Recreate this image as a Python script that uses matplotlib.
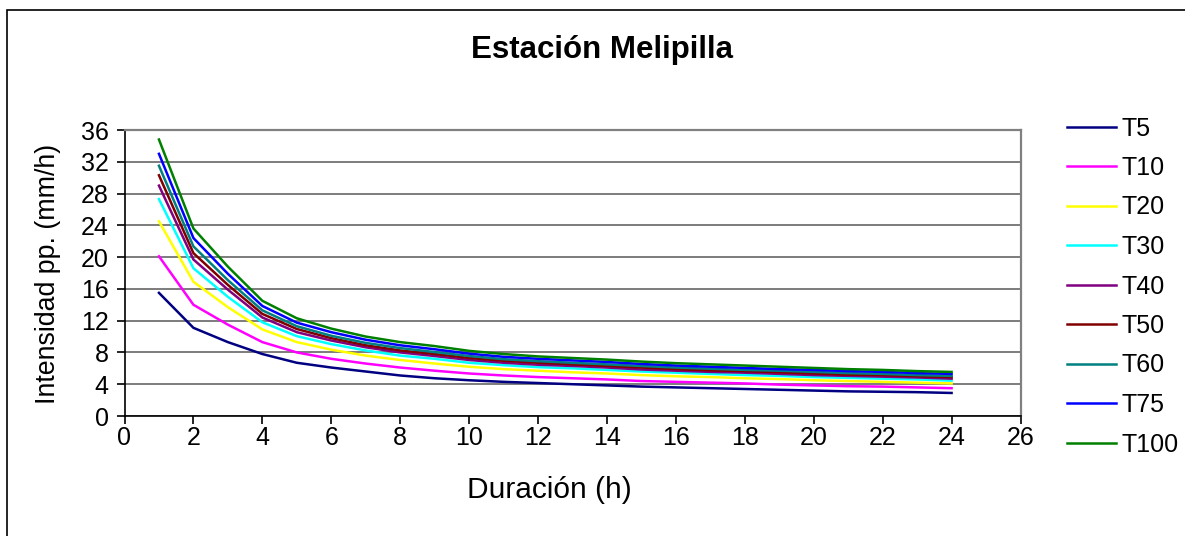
import matplotlib
matplotlib.use('Agg')
import matplotlib.pyplot as plt
from matplotlib.patches import Rectangle

plt.rcParams['font.family'] = ['Liberation Sans', 'DejaVu Sans']

# Duracion (h)
hours = list(range(1, 25))

# intensity curves (mm/h)
t5 = [15.5, 11.1, 9.3, 7.8, 6.7, 6.1, 5.6, 5.1, 4.75, 4.5, 4.3, 4.15,
      4.0, 3.85, 3.7, 3.6, 3.5, 3.4, 3.3, 3.2, 3.1, 3.05, 3.0, 2.9]
t10 = [20.1, 14.0, 11.5, 9.3, 8.0, 7.2, 6.6, 6.1, 5.7, 5.35, 5.1, 4.9,
       4.75, 4.6, 4.4, 4.3, 4.2, 4.1, 3.95, 3.85, 3.75, 3.7, 3.6, 3.5]
t20 = [24.5, 16.9, 13.7, 10.9, 9.3, 8.35, 7.6, 7.05, 6.6, 6.2, 5.9, 5.7,
       5.5, 5.35, 5.15, 5.0, 4.9, 4.75, 4.65, 4.5, 4.4, 4.3, 4.2, 4.1]
t30 = [27.3, 18.6, 15.0, 11.8, 10.05, 9.05, 8.25, 7.6, 7.2, 6.7, 6.4, 6.15,
       6.0, 5.8, 5.6, 5.45, 5.3, 5.15, 5.05, 4.9, 4.8, 4.7, 4.6, 4.45]
t40 = [29.0, 19.7, 15.9, 12.4, 10.55, 9.5, 8.65, 8.0, 7.55, 7.05, 6.7, 6.45,
       6.3, 6.1, 5.85, 5.7, 5.55, 5.45, 5.3, 5.15, 5.05, 4.95, 4.85, 4.7]
t50 = [30.3, 20.5, 16.5, 12.85, 10.95, 9.8, 8.9, 8.25, 7.8, 7.3, 6.95, 6.7,
       6.5, 6.3, 6.1, 5.9, 5.75, 5.65, 5.5, 5.35, 5.2, 5.15, 5.0, 4.9]
t60 = [31.5, 21.35, 17.1, 13.3, 11.3, 10.1, 9.2, 8.55, 8.05, 7.55, 7.15, 6.9,
       6.7, 6.5, 6.3, 6.1, 5.95, 5.8, 5.7, 5.55, 5.4, 5.3, 5.15, 5.05]
t75 = [33.0, 22.4, 17.9, 13.85, 11.75, 10.55, 9.6, 8.9, 8.4, 7.85, 7.45, 7.2,
       7.0, 6.8, 6.55, 6.35, 6.2, 6.05, 5.9, 5.8, 5.65, 5.55, 5.4, 5.3]
t100 = [34.8, 23.6, 18.8, 14.5, 12.3, 11.0, 10.0, 9.3, 8.8, 8.2, 7.8, 7.5,
        7.3, 7.1, 6.85, 6.65, 6.5, 6.35, 6.2, 6.05, 5.9, 5.8, 5.65, 5.55]

labels = ['T5', 'T10', 'T20', 'T30', 'T40', 'T50', 'T60', 'T75', 'T100']
colors = ['#000080', '#FF00FF', '#FFFF00', '#00FFFF', '#800080',
          '#800000', '#008080', '#0000FF', '#008000']
series = [t5, t10, t20, t30, t40, t50, t60, t75, t100]

fig = plt.figure(figsize=(11.85, 5.36), dpi=100)
ax = fig.add_axes([124.5 / 1185, 1 - 416 / 536, 896 / 1185, 286 / 536])

for vals, lab, col in zip(series, labels, colors):
    ax.plot(hours, vals, color=col, lw=1.8, label=lab)

ax.set_xlim(0, 26)
ax.set_ylim(0, 36)
ax.set_xticks(range(0, 27, 2))
ax.set_yticks(range(0, 37, 4))
ax.grid(axis='y', color='#666666', lw=1.2)
ax.set_axisbelow(True)

for s in ['top', 'right']:
    ax.spines[s].set_color('#808080')
    ax.spines[s].set_linewidth(1.6)
for s in ['left', 'bottom']:
    ax.spines[s].set_color('black')
    ax.spines[s].set_linewidth(1.2)

ax.tick_params(axis='both', direction='out', length=5.5, width=1.2,
               labelsize=18)
ax.tick_params(axis='x', pad=2)
ax.tick_params(axis='y', pad=6)

fig.text(602 / 1185, 1 - 50 / 536, 'Estación Melipilla', fontsize=22.5,
         fontweight='bold', ha='center', va='center')
fig.text(549.5 / 1185, 1 - 490 / 536, 'Duración (h)', fontsize=21.5,
         ha='center', va='center')
fig.text(48 / 1185, 1 - 274 / 536, 'Intensidad pp. (mm/h)', fontsize=19.3,
         ha='center', va='center', rotation=90)

fig.legend(loc='center left', bbox_to_anchor=(1067 / 1185, 1 - 286.5 / 536),
           frameon=False, fontsize=18, handlelength=1.95, handletextpad=0.25,
           labelspacing=0.62, borderpad=0, borderaxespad=0)

# outer chart frame
fig.patches.append(Rectangle((7 / 1185, -0.1), 1.2, 1.1 - 10 / 536,
                             transform=fig.transFigure, fill=False,
                             edgecolor='black', lw=1.2))

fig.savefig('out.png', dpi=100)
